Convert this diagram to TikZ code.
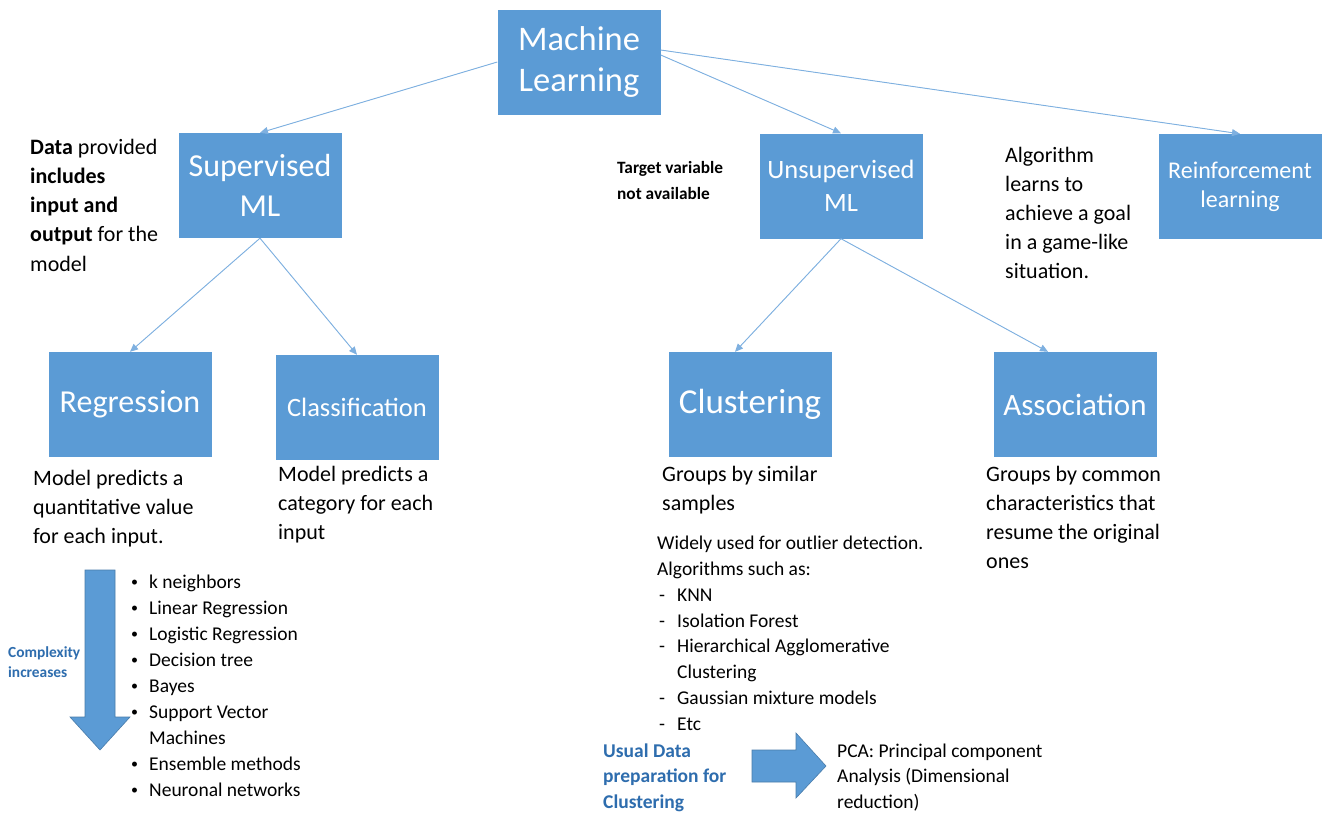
\documentclass[tikz,border=0pt]{standalone}
\usepackage{fontspec}
\setmainfont{Carlito}
\usetikzlibrary{arrows.meta}
\definecolor{boxblue}{HTML}{5B9BD5}
\definecolor{lineblue}{HTML}{7EB0E0}
\definecolor{textblue}{HTML}{2E6DAE}
\newcommand{\fs}[2]{\fontsize{#1}{#2}\selectfont}
\newcommand{\dotb}{\raisebox{1.5pt}{\fs{14}{26}\textbullet}}

\begin{document}
\begin{tikzpicture}[x=1pt,y=-1pt]

\tikzset{box/.style = {fill=boxblue, text=white, minimum width=163pt, minimum height=105pt, inner sep=0pt, align=center}}
\tikzset{edge/.style = {-{Triangle[length=8pt,width=7pt]}, draw=lineblue, fill=lineblue, line width=0.9pt}}
% anchored at the baseline of the last line
\tikzset{note/.style = {anchor=base west, inner sep=0pt, align=left}}
\tikzset{block/.style = {fill=boxblue, draw=boxblue!80!black, line width=0.6pt}}
\useasboundingbox[fill=white] (0,0) rectangle (1327,817);
%boxes
\node[box, font=\fs{34.5}{41}] (ml) at (579,62) {Machine\\Learning};
\node[box, font=\fs{32}{40}] (sup) at (260,185.5) {Supervised\\ML};
\node[box, font=\fs{26.5}{33}] (unsup) at (841,186) {Unsupervised\\ML};
\node[box, font=\fs{24}{29}] (rl) at (1240,186.5) {Reinforcement\\learning};
\node[box, font=\fs{32}{38}] (reg) at (130,404.5) {Regression};
\node[box, font=\fs{26.5}{30}] (cls) at (357,407.5) {Classification};
\node[box, font=\fs{35}{40}] (clu) at (750,404.5) {Clustering};
\node[box, font=\fs{31}{36}] (asso) at (1075,404.5) {Association};
%edges
\draw[edge] (ml.west) -- (sup.north);
\draw[edge] ([yshift=7pt]ml.east) -- (unsup.north);
\draw[edge] ([yshift=12pt]ml.east) -- (rl.north);
\draw[edge] (sup.south) -- (reg.north);
\draw[edge] (sup.south) -- (cls.north);
\draw[edge] (unsup.south) -- ([xshift=-15pt]clu.north);
\draw[edge] (unsup.south) -- ([xshift=-27pt]asso.north);
%notes
\node[note, font=\fs{22}{29.2}] (data) at (30,271) {\textbf{Data} provided\\\textbf{includes}\\\textbf{input and}\\\textbf{output} for the\\model};
\node[note, font=\bfseries\fs{17.3}{26}] (target) at (617,199) {Target variable\\not available};
\node[note, font=\fs{22}{29}] (goal) at (1005,278) {Algorithm\\learns to\\achieve a goal\\in a game-like\\situation.};
\node[note, font=\fs{22}{29}] (regtxt) at (33,543) {Model predicts a\\quantitative value\\for each input.};
\node[note, font=\fs{22}{29}] (clstxt) at (278,539) {Model predicts a\\category for each\\input};
\node[note, font=\fs{22}{29}] (clutxt) at (662,510) {Groups by similar\\samples};
\node[note, font=\fs{22}{29}] (assotxt) at (986,568) {Groups by common\\characteristics that\\resume the original\\ones};
%complexity
\draw[block] (85,570) -- (115,570) -- (115,717) -- (130,717) -- (100,750) -- (70,717) -- (85,717) -- cycle;
\node[note, font=\bfseries\fs{15.4}{20}, text=textblue] (cplx) at (8,677) {Complexity\\increases};
\node[note, anchor=north west, font=\fs{19.5}{26}] (algs) at (131,570) {\begin{tabular}{@{}p{18pt}@{}l@{}}
\dotb & k neighbors\\
\dotb & Linear Regression\\
\dotb & Logistic Regression\\
\dotb & Decision tree\\
\dotb & Bayes\\
\dotb & Support Vector\\
 & Machines\\
\dotb & Ensemble methods\\
\dotb & Neuronal networks
\end{tabular}};
%outliers
\node[note, anchor=north west, font=\fs{19.5}{25.9}] (outl) at (657,531) {\begin{tabular}{@{}p{20pt}@{}l@{}}
\multicolumn{2}{@{}l@{}}{Widely used for outlier detection.}\\
\multicolumn{2}{@{}l@{}}{Algorithms such as:}\\
\hspace{2pt}- & KNN\\
\hspace{2pt}- & Isolation Forest\\
\hspace{2pt}- & Hierarchical Agglomerative\\
 & Clustering\\
\hspace{2pt}- & Gaussian mixture models\\
\hspace{2pt}- & Etc
\end{tabular}};
%preparation
\node[note, font=\bfseries\fs{19.5}{25.5}, text=textblue] (prep) at (603,808) {Usual Data\\preparation for\\Clustering};
\draw[block] (752,750) -- (796,750) -- (796,733) -- (826,766) -- (796,798) -- (796,782) -- (752,782) -- cycle;
\node[note, font=\fs{19.5}{25.5}] (pca) at (837,808) {PCA: Principal component\\Analysis (Dimensional\\reduction)};

\end{tikzpicture}
\end{document}
